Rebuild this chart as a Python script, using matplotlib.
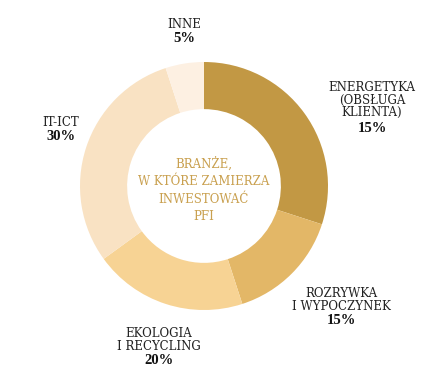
import matplotlib.pyplot as plt

# dane
categories = [
    "Energetyka\n(obsługa\nklienta)",
    "Rozrywka\ni wypoczynek",
    "Ekologia\ni recycling",
    "IT-ICT",
    "Inne",
]
shares = [30, 15, 20, 30, 5]
pct_labels = ["15%", "15%", "20%", "30%", "5%"]
center_title = "Branże,\nw które zamierza\ninwestować\nPFI"

colors = ["#c29844", "#e3b767", "#f7d394", "#f9e2c3", "#fdf0e2"]
# pozycje etykiet (px, od góry): nazwa, procent
label_pos = [
    ((372, 100), (372, 129)),
    ((341, 300), (341, 321)),
    ((159, 340), (159, 361)),
    ((61, 123), (61, 137)),
    ((184, 25), (184, 39)),
]

W, H = 423, 384
fig = plt.figure(figsize=(W / 100, H / 100), dpi=100)
ax = fig.add_axes([0, 0, 1, 1])

cx, cy, R = 204, H - 186, 124
ax.pie(
    shares,
    colors=colors,
    startangle=90,
    counterclock=False,
    center=(cx, cy),
    radius=R,
    wedgeprops=dict(width=R * 0.38, linewidth=0),
    frame=True,
)
ax.set_xlim(0, W)
ax.set_ylim(0, H)
ax.set_aspect("equal")
ax.axis("off")

font = "DejaVu Serif"
for name, pct, (npos, ppos) in zip(categories, pct_labels, label_pos):
    ax.text(npos[0], H - npos[1], name.upper(), ha="center", va="center",
            fontsize=8.5, family=font, color="#222222", linespacing=0.95)
    ax.text(ppos[0], H - ppos[1], pct, ha="center", va="center",
            fontsize=10.5, family="Liberation Serif", weight="bold",
            color="#111111")

ax.text(cx, H - 190, center_title.upper(), ha="center", va="center",
        fontsize=8.5, family=font, color="#c9a04f", linespacing=1.43)

fig.savefig("out.png", dpi=100)
